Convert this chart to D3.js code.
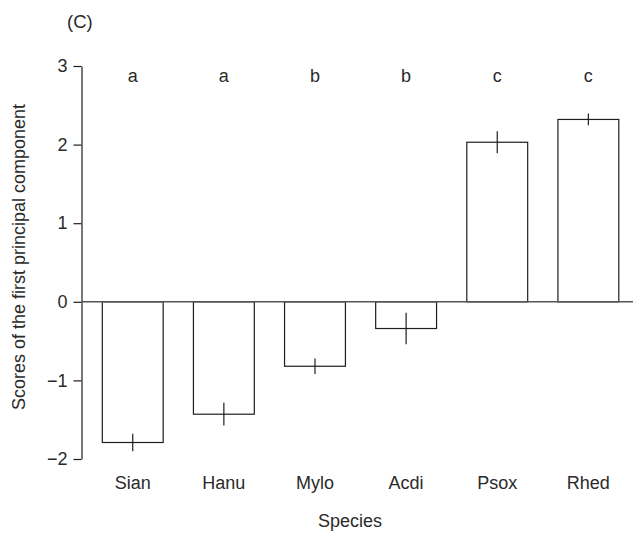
<!DOCTYPE html>
<html>
<head>
<meta charset="utf-8">
<script src="https://cdn.jsdelivr.net/npm/d3@7"></script>
<style>
  html, body { margin: 0; padding: 0; background: #fff; }
  svg { display: block; font-family: "Liberation Sans", Arial, sans-serif; }
</style>
</head>
<body>
<svg id="chart" width="635" height="535"></svg>
<script>
// Species and their mean scores on the first principal component
const species = ["Sian", "Hanu", "Mylo", "Acdi", "Psox", "Rhed"];
const scores = [-1.79, -1.43, -0.82, -0.34, 2.03, 2.32];
const errors = [0.11, 0.145, 0.10, 0.20, 0.14, 0.075];
const groups = ["a", "a", "b", "b", "c", "c"];
const yTicks = [-2, -1, 0, 1, 2, 3];

const data = species.map((s, i) => ({ s, v: scores[i], e: errors[i], g: groups[i] }));

const svg = d3.select("#chart");
const ink = "#1e1e1e";
const textInk = "#2a2a2a";
const fontSize = 18;

const y = d3.scaleLinear().domain([-2, 3]).range([459, 66]);
const x = d3.scaleBand().domain(species).range([102.3, 618.8])
  .paddingInner(0.332).paddingOuter(0);
const axisX = 81.5;

// Panel label
svg.append("text").attr("x", 67).attr("y", 28)
  .attr("font-size", 18.5).attr("fill", textInk).text("(C)");

// Y axis
const yAxis = svg.append("g")
  .attr("transform", `translate(${axisX},0)`)
  .call(d3.axisLeft(y).tickValues(yTicks).tickSize(8).tickSizeOuter(0).tickPadding(6)
    .tickFormat(d3.format("d")));
yAxis.selectAll("path, line").attr("stroke", ink).attr("stroke-width", 1.2);
yAxis.selectAll("text").attr("font-size", fontSize).attr("fill", textInk)
  .attr("font-family", "Liberation Sans, Arial, sans-serif");

// Bars
svg.append("g").selectAll("rect").data(data).join("rect")
  .attr("x", d => x(d.s))
  .attr("width", x.bandwidth())
  .attr("y", d => y(Math.max(0, d.v)))
  .attr("height", d => Math.abs(y(d.v) - y(0)))
  .attr("fill", "#fff")
  .attr("stroke", ink)
  .attr("stroke-width", 1.2);

// Zero line
svg.append("line")
  .attr("x1", axisX).attr("x2", 633)
  .attr("y1", y(0)).attr("y2", y(0))
  .attr("stroke", "#555").attr("stroke-width", 1.5);

// Error bars (vertical only)
svg.append("g").selectAll("line").data(data).join("line")
  .attr("x1", d => x(d.s) + x.bandwidth() / 2)
  .attr("x2", d => x(d.s) + x.bandwidth() / 2)
  .attr("y1", d => y(d.v - d.e))
  .attr("y2", d => y(d.v + d.e))
  .attr("stroke", ink).attr("stroke-width", 1.2);

// Significance group letters
svg.append("g").selectAll("text").data(data).join("text")
  .attr("x", d => x(d.s) + x.bandwidth() / 2)
  .attr("y", 82)
  .attr("text-anchor", "middle")
  .attr("font-size", fontSize).attr("fill", textInk)
  .text(d => d.g);

// Category labels
svg.append("g").selectAll("text").data(data).join("text")
  .attr("x", d => x(d.s) + x.bandwidth() / 2)
  .attr("y", 489)
  .attr("text-anchor", "middle")
  .attr("font-size", fontSize).attr("fill", textInk)
  .text(d => d.s);

// Axis titles
svg.append("text")
  .attr("x", 350).attr("y", 527)
  .attr("text-anchor", "middle")
  .attr("font-size", fontSize).attr("fill", textInk)
  .text("Species");

svg.append("text")
  .attr("transform", "translate(25,257) rotate(-90)")
  .attr("text-anchor", "middle")
  .attr("font-size", fontSize).attr("fill", textInk)
  .text("Scores of the first principal component");
</script>
</body>
</html>
